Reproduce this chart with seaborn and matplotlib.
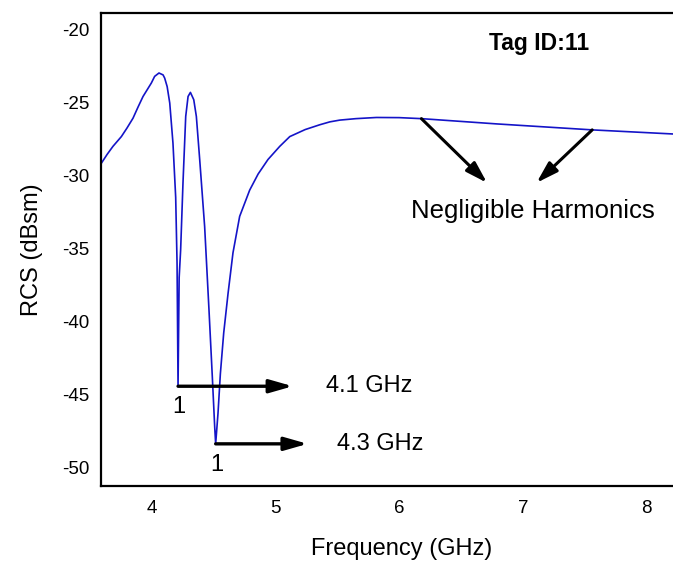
import numpy as np
import matplotlib
matplotlib.use("Agg")
import matplotlib.pyplot as plt
import seaborn as sns

# values
freq_ghz = [3.593, 3.64, 3.687, 3.755, 3.80, 3.849, 3.89, 3.93, 3.997, 4.024,
            4.059, 4.092, 4.105, 4.125, 4.146, 4.172, 4.194, 4.205, 4.213, 4.222,
            4.234, 4.253, 4.275, 4.294, 4.313, 4.34, 4.361, 4.388, 4.428, 4.463,
            4.49, 4.509, 4.517, 4.536, 4.555, 4.582, 4.617, 4.657, 4.711, 4.792,
            4.86, 4.94, 5.035, 5.116, 5.24, 5.358, 5.44, 5.52, 5.65, 5.816,
            6.0, 6.18, 6.787, 7.56, 8.21, 8.45]
rcs_dbsm = [-29.16, -28.55, -28.0, -27.33, -26.75, -26.07, -25.3, -24.58, -23.66, -23.2,
            -22.97, -23.1, -23.32, -23.9, -25.03, -27.78, -31.5, -36.0, -44.45, -37.0,
            -35.1, -30.5, -25.95, -24.58, -24.3, -24.8, -25.95, -28.9, -33.5, -39.2,
            -43.8, -47.2, -48.4, -46.3, -43.6, -40.8, -38.1, -35.3, -32.8, -31.0,
            -29.9, -28.9, -28.0, -27.33, -26.85, -26.52, -26.32, -26.2, -26.1, -26.02,
            -26.03, -26.1, -26.46, -26.87, -27.15, -27.25]

x_ticks = [4, 5, 6, 7, 8]
y_ticks = [-20, -25, -30, -35, -40, -45, -50]

resonances = [(4.213, -44.45, "4.1 GHz"), (4.517, -48.4, "4.3 GHz")]
harmonic_points = [(6.18, -26.1), (7.56, -26.87)]

sns.set_style("white")
plt.rcParams["font.family"] = ["Liberation Sans", "DejaVu Sans"]
plt.rcParams["axes.unicode_minus"] = False
plt.rcParams["text.color"] = "black"
plt.rcParams["axes.labelcolor"] = "black"
plt.rcParams["xtick.color"] = "black"
plt.rcParams["ytick.color"] = "black"

fig = plt.figure(figsize=(6.73, 5.62), dpi=100)
# the axes runs past the right edge of the picture, as in the reference
ax = fig.add_axes([0.150, 0.135, 0.8945, 0.842])

sns.lineplot(x=freq_ghz, y=rcs_dbsm, color="#1414c8", linewidth=1.2, ax=ax)

ax.set_xlim(3.59, 8.455)
ax.set_ylim(-51.3, -18.85)
ax.set_xticks(x_ticks)
ax.set_yticks(y_ticks)
ax.tick_params(axis="both", length=0, labelsize=13.5)
ax.tick_params(axis="x", pad=10)
ax.tick_params(axis="y", pad=8)
for side in ["left", "top", "bottom"]:
    ax.spines[side].set_linewidth(1.6)
    ax.spines[side].set_color("black")
ax.spines["right"].set_visible(False)

ax.set_xlabel("Frequency (GHz)", fontsize=17, labelpad=15)
ax.set_ylabel("RCS (dBsm)", fontsize=17, labelpad=14)

# resonance markers
arrow_ends = [5.14, 5.26]
text_x = [5.41, 5.50]
for (f, v, lab), xe, xt in zip(resonances, arrow_ends, text_x):
    ax.annotate("", xy=(xe, v), xytext=(f, v),
                arrowprops=dict(arrowstyle="-|>,head_length=1.4,head_width=0.4",
                                color="black", lw=2.4, shrinkA=0, shrinkB=0))
    ax.text(xt, v, lab, fontsize=17, va="center", ha="left")
    ax.text(f + 0.01, v - 1.45, "1", fontsize=17, va="center", ha="center")

# harmonics annotation
tips = [(6.71, -30.5), (7.11, -30.5)]
for (fx, fy), tip in zip(harmonic_points, tips):
    ax.annotate("", xy=tip, xytext=(fx, fy),
                arrowprops=dict(arrowstyle="-|>,head_length=1.3,head_width=0.4",
                                color="black", lw=2.2, shrinkA=0, shrinkB=0))
ax.text(7.08, -32.45, "Negligible Harmonics", fontsize=18.5, ha="center", va="center")

ax.text(7.13, -20.95, "Tag ID:11", fontsize=16.5, fontweight="bold",
        ha="center", va="center")

fig.savefig("out.png", dpi=100)
